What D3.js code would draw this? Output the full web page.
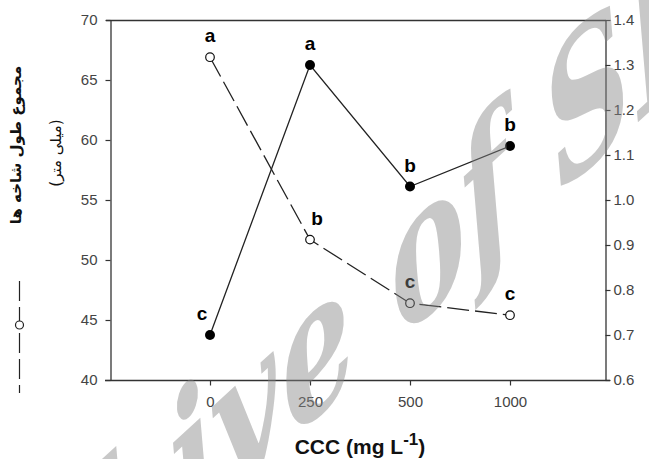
<!DOCTYPE html>
<html>
<head>
<meta charset="utf-8">
<script src="https://cdn.jsdelivr.net/npm/d3@7"></script>
<style>
  body { margin: 0; background: #fff; }
  svg { display: block; }
</style>
</head>
<body>
<div id="container"></div>
<script>
// data we work with
let doses = ["0", "250", "500", "1000"];
// dashed line, open circles, left axis (shoot length)
let shootLength = [66.9, 51.7, 46.4, 45.4];
let shootLetters = ["a", "b", "c", "c"];
// solid line, filled circles, right axis
let rightValues = [0.70, 1.30, 1.03, 1.12];
let rightLetters = ["c", "a", "b", "b"];
let leftTicks = [40, 45, 50, 55, 60, 65, 70];
let rightTicks = [0.6, 0.7, 0.8, 0.9, 1.0, 1.1, 1.2, 1.3, 1.4];

// global layout
let w = 649;
let h = 459;
let padLeft = 110, padRight = 605, padTop = 20, padBottom = 380;
let axisColor = "#333";
let tickFont = "Liberation Sans, Arial, sans-serif";

let viz = d3.select("#container")
  .append("svg")
    .attr("width", w)
    .attr("height", h)
    .style("background", "#fff");

// scales
let xScale = d3.scaleLinear().domain([-1, 3.95]).range([padLeft, padRight]);
let yLeft = d3.scaleLinear().domain([40, 70]).range([padBottom, padTop]);
let yRight = d3.scaleLinear().domain([0.6, 1.4]).range([padBottom, padTop]);

function styleAxis(g){
  g.selectAll("path").attr("stroke", axisColor).attr("stroke-width", 1.3);
  g.selectAll("line").attr("stroke", axisColor).attr("stroke-width", 1.2);
  g.selectAll("text")
    .attr("fill", "#444")
    .attr("font-size", 15)
    .attr("font-family", tickFont);
}

// frame lines: top and bottom run a little past the box
viz.append("line")
  .attr("x1", padLeft - 4).attr("x2", padRight + 1)
  .attr("y1", padTop + 0.5).attr("y2", padTop + 0.5)
  .attr("stroke", axisColor).attr("stroke-width", 1.3);
viz.append("line")
  .attr("x1", padLeft - 5).attr("x2", padRight + 5)
  .attr("y1", padBottom + 0.5).attr("y2", padBottom + 0.5)
  .attr("stroke", axisColor).attr("stroke-width", 1.3);

// X axis
let xAxis = d3.axisBottom(xScale)
  .tickValues(d3.range(doses.length))
  .tickFormat(function(i){ return doses[i]; })
  .tickSize(5)
  .tickPadding(11);
let xAxisGroup = viz.append("g")
  .attr("transform", "translate(0," + (padBottom + 0.5) + ")")
  .call(xAxis);
xAxisGroup.select(".domain").remove();
styleAxis(xAxisGroup);

// left Y axis
let yAxisL = d3.axisLeft(yLeft).tickValues(leftTicks).tickSize(5).tickSizeOuter(0).tickPadding(8);
let yAxisLGroup = viz.append("g")
  .attr("transform", "translate(" + (padLeft + 0.5) + ",0)")
  .call(yAxisL);
styleAxis(yAxisLGroup);

// right Y axis
let yAxisR = d3.axisRight(yRight).tickValues(rightTicks).tickSize(5).tickSizeOuter(0).tickPadding(3)
  .tickFormat(d3.format(".1f"));
let yAxisRGroup = viz.append("g")
  .attr("transform", "translate(" + (padRight + 0.5) + ",0)")
  .call(yAxisR);
styleAxis(yAxisRGroup);

// x axis title with superscript
let xTitle = viz.append("text")
  .attr("x", 360).attr("y", 454)
  .attr("text-anchor", "middle")
  .attr("font-family", tickFont)
  .attr("font-weight", "bold")
  .attr("font-size", 21)
  .attr("fill", "#111");
xTitle.append("tspan").text("CCC (mg L");
xTitle.append("tspan").attr("dy", -9).attr("font-size", 17).text("-1");
xTitle.append("tspan").attr("dy", 9).text(")");

// left axis title (persian, rotated)
viz.append("text")
  .attr("transform", "translate(21,145) rotate(-90)")
  .attr("text-anchor", "middle")
  .attr("font-family", "DejaVu Sans, sans-serif")
  .attr("font-weight", "bold")
  .attr("font-size", 15)
  .attr("fill", "#111")
  .text("مجموع طول شاخه ها");
viz.append("text")
  .attr("transform", "translate(61,153) rotate(-90)")
  .attr("text-anchor", "middle")
  .attr("font-family", "DejaVu Sans, sans-serif")
  .attr("font-size", 15)
  .attr("fill", "#111")
  .text("(میلی متر)");

// legend key for the dashed series
viz.append("line")
  .attr("x1", 19.5).attr("x2", 19.5)
  .attr("y1", 281).attr("y2", 393)
  .attr("stroke", "#222").attr("stroke-width", 1.2)
  .attr("stroke-dasharray", "20,6");
viz.append("circle")
  .attr("cx", 19.5).attr("cy", 325).attr("r", 4)
  .attr("fill", "#fff").attr("stroke", "#222").attr("stroke-width", 1.2);

// Group for graph
let graphgroup = viz.append("g").attr("class", "graphgroup");

let dashedLine = d3.line()
  .x(function(d, i){ return xScale(i); })
  .y(function(d){ return yLeft(d); });
let solidLine = d3.line()
  .x(function(d, i){ return xScale(i); })
  .y(function(d){ return yRight(d); });

graphgroup.append("path")
  .datum(shootLength)
  .attr("d", dashedLine)
  .attr("fill", "none")
  .attr("stroke", "#222")
  .attr("stroke-width", 1.3)
  .attr("stroke-dasharray", "22,6");

graphgroup.append("path")
  .datum(rightValues)
  .attr("d", solidLine)
  .attr("fill", "none")
  .attr("stroke", "#222")
  .attr("stroke-width", 1.3);

graphgroup.selectAll(".openpoint").data(shootLength).enter()
  .append("circle")
    .attr("class", "openpoint")
    .attr("cx", function(d, i){ return xScale(i); })
    .attr("cy", function(d){ return yLeft(d); })
    .attr("r", 4.3)
    .attr("fill", "#fff")
    .attr("stroke", "#111")
    .attr("stroke-width", 1.2);

graphgroup.selectAll(".fillpoint").data(rightValues).enter()
  .append("circle")
    .attr("class", "fillpoint")
    .attr("cx", function(d, i){ return xScale(i); })
    .attr("cy", function(d){ return yRight(d); })
    .attr("r", 5)
    .attr("fill", "#000");

// significance letters (small nudges where the original sits off-center)
let dashedNudge = [0, 7, 0, 0];
let solidNudge = [-8, 0, 0, 0];
function addLetters(values, letters, scale, nudge){
  graphgroup.selectAll(null).data(values).enter()
    .append("text")
      .attr("x", function(d, i){ return xScale(i) + nudge[i]; })
      .attr("y", function(d){ return scale(d) - 15; })
      .attr("text-anchor", "middle")
      .attr("font-family", tickFont)
      .attr("font-weight", "bold")
      .attr("font-size", 19)
      .attr("fill", "#000")
      .text(function(d, i){ return letters[i]; });
}
addLetters(shootLength, shootLetters, yLeft, dashedNudge);
addLetters(rightValues, rightLetters, yRight, solidNudge);

// watermark across the picture
viz.append("text")
  .attr("transform", "translate(-106,804) rotate(-42.5) skewX(-30)")
  .attr("font-family", "DejaVu Serif, serif")
  .attr("font-style", "italic")
  .attr("font-weight", "bold")
  .attr("font-size", 150)
  .attr("fill", "#858585")
  .attr("fill-opacity", 0.45)
  .text("Archive of SID");
</script>
</body>
</html>
